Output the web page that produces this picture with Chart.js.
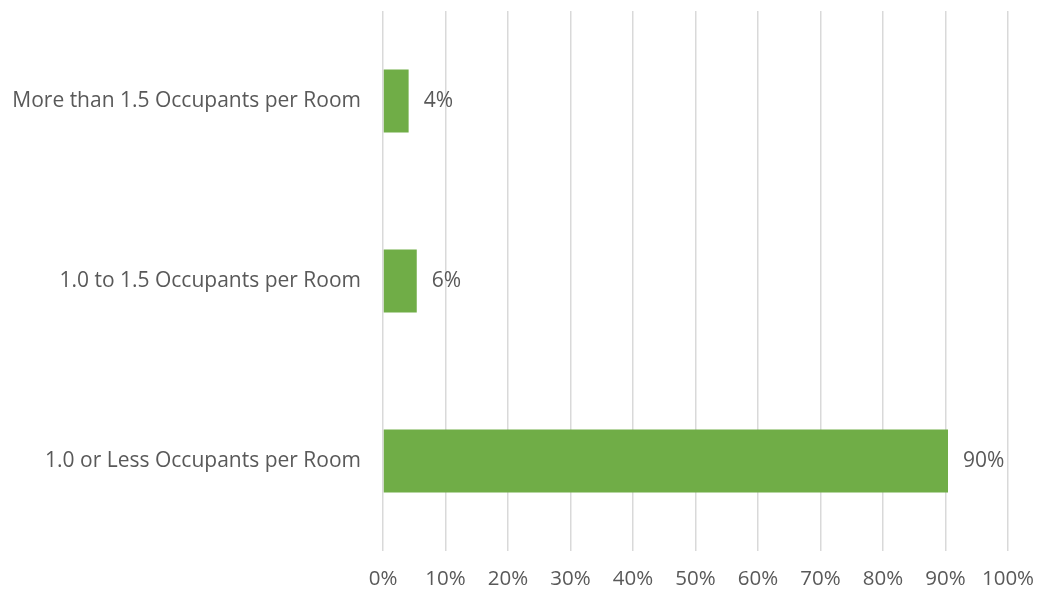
<!DOCTYPE html>
<html>
<head>
<meta charset="utf-8">
<script src="https://cdn.jsdelivr.net/npm/chart.js@4/dist/chart.umd.min.js"></script>
<style>
  html, body { margin: 0; padding: 0; background: #fff; }
  #wrap { width: 1037px; height: 594px; }
</style>
</head>
<body>
<div id="wrap"><canvas id="crowdingChart" width="1037" height="594"></canvas></div>
<script>
// Chart data
const categories = [
    'More than 1.5 Occupants per Room',
    '1.0 to 1.5 Occupants per Room',
    '1.0 or Less Occupants per Room'
];
const shareValues = [4.1, 5.4, 90.4];
const shareLabels = ['4%', '6%', '90%'];

const textColor = '#595959';
const fontFamily = "'Open Sans', 'Liberation Sans', sans-serif";

// Draw the value labels at the end of each bar
const valueLabels = {
    id: 'valueLabels',
    afterDatasetsDraw(chart) {
        const ctx = chart.ctx;
        const meta = chart.getDatasetMeta(0);
        ctx.save();
        ctx.fillStyle = textColor;
        ctx.font = '21px ' + fontFamily;
        ctx.textAlign = 'left';
        ctx.textBaseline = 'middle';
        meta.data.forEach((bar, i) => {
            ctx.fillText(shareLabels[i], bar.x + 15, bar.y);
        });
        ctx.restore();
    }
};

// drop the automatic label padding so the plot area matches the layout
function noAutoPadding(scale) {
    scale.paddingLeft = 0;
    scale.paddingRight = 0;
    scale.paddingTop = 0;
    scale.paddingBottom = 0;
}

const ctx = document.getElementById('crowdingChart').getContext('2d');
new Chart(ctx, {
    type: 'bar',
    data: {
        labels: categories,
        datasets: [{
            data: shareValues,
            backgroundColor: '#70ad47',
            categoryPercentage: 0.35,
            barPercentage: 1.0
        }]
    },
    options: {
        indexAxis: 'y',
        responsive: false,
        animation: false,
        layout: { padding: { top: 11, right: 29, left: 0, bottom: 0 } },
        plugins: {
            legend: { display: false },
            tooltip: { enabled: false }
        },
        scales: {
            x: {
                min: 0,
                max: 100,
                ticks: {
                    stepSize: 10,
                    color: textColor,
                    font: { family: fontFamily, size: 20.5 },
                    padding: 16,
                    callback: v => v + '%'
                },
                grid: { color: '#d9d9d9', lineWidth: 1.5, drawTicks: false },
                border: { display: false },
                afterFit(scale) { scale.height = 43; noAutoPadding(scale); }
            },
            y: {
                ticks: {
                    color: textColor,
                    font: { family: fontFamily, size: 21 },
                    padding: 14
                },
                grid: { display: false },
                border: { display: false },
                afterFit(scale) { scale.width = 383; noAutoPadding(scale); }
            }
        }
    },
    plugins: [valueLabels]
});
</script>
</body>
</html>
